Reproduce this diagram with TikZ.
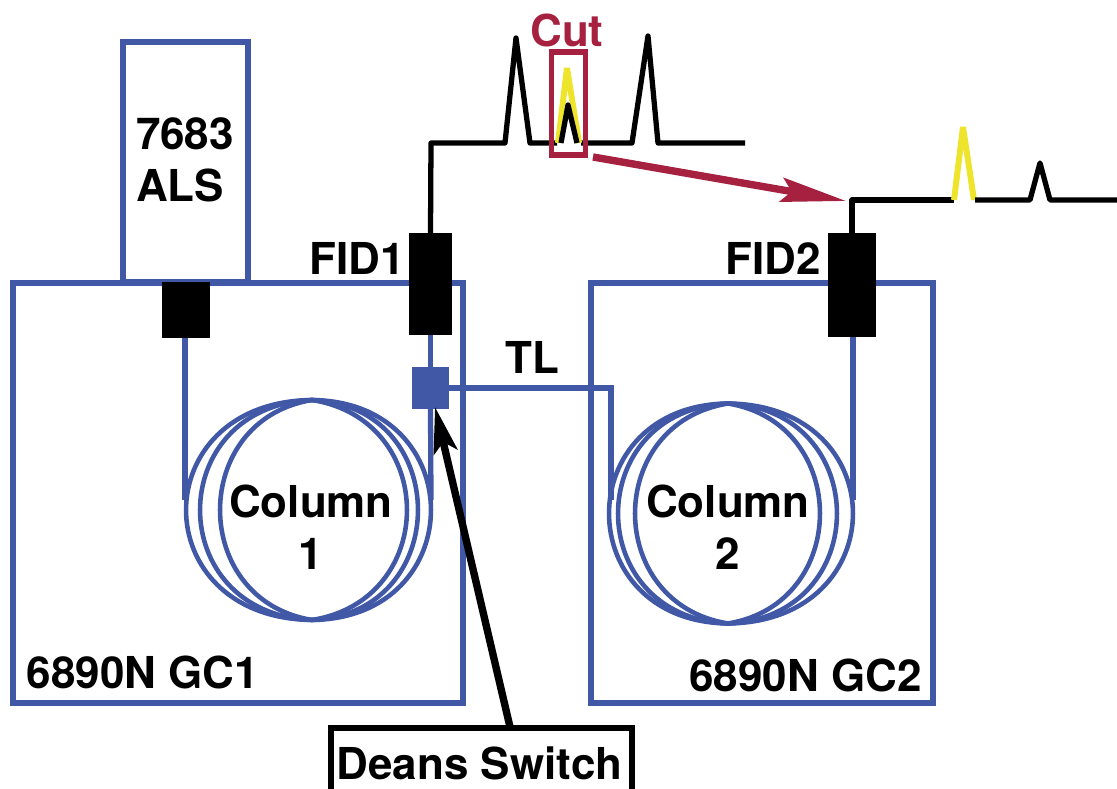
\documentclass[tikz,border=0pt]{standalone}
\usepackage{fontspec}
\setmainfont{TeX Gyre Heros}
\usetikzlibrary{arrows.meta}
\definecolor{tube}{RGB}{64,88,166}
\definecolor{cutred}{RGB}{166,33,64}
\definecolor{peak}{RGB}{238,228,44}
\tikzset{
  label/.style={font=\fontsize{12.5}{14.8}\selectfont\bfseries,align=center,inner sep=0pt},
  oven/.style={draw=tube,line width=1.55pt,inner sep=0pt,outer sep=0pt,minimum width=#1},
  block/.style={fill=black,inner sep=0pt,outer sep=0pt,minimum width=#1},
  signal/.style={line width=1.5pt,line join=round,draw=black},
  signal cut/.style={line width=1.7pt,line join=bevel,draw=peak},
  capillary/.style={draw=tube,line width=1.5pt},
  coilline/.style={draw=tube,line width=1.3pt},
  % coil of three turns
  pics/coil/.style={code={
    \foreach \l/\r/\c in {#1}{
      \draw[coilline] (0,-110) .. controls (1.333*\r,-\c) and (1.333*\r,\c) .. (0,110);
      \draw[coilline] (0,-110) .. controls (1.333*\l,-\c) and (1.333*\l,\c) .. (0,110);
    }
  }},
}
\begin{document}
\begin{tikzpicture}[x=0.01cm,y=-0.01cm]
  \clip (0,0) rectangle (1117,789);
  % ovens and sampler
  \node[oven=1.25cm,minimum height=2.40cm] (als) at (185.5,162) {};
  \node[oven=4.50cm,minimum height=4.20cm] (gc1) at (238,493) {};
  \node[oven=3.42cm,minimum height=4.20cm] (gc2) at (762,493) {};
  % coils
  \pic at (312,510) {coil={-126/119/108,-112/106/104,-92/95/90}};
  \pic at (728,513.5) {coil={-119/125/108,-110/109/104,-93/92/90}};
  % columns
  \node[block=0.48cm,minimum height=0.56cm] (inlet) at (186,310) {};
  \node[block=0.43cm,minimum height=1.02cm] (fid1) at (430.5,284) {};
  \node[block=0.48cm,minimum height=1.04cm] (fid2) at (852,285) {};
  \node[fill=tube,inner sep=0pt,outer sep=0pt,minimum width=0.37cm,minimum height=0.42cm] (switch) at (430.5,388) {};
  \coordinate (coil1 l) at (185,500);
  \coordinate (coil1 r) at (431,500);
  \coordinate (coil2 l) at (611,500);
  \coordinate (coil2 r) at (853,500);
  \draw[capillary] (inlet.south -| coil1 l) -- (coil1 l);
  \draw[capillary] (fid1.south) -- (switch.north);
  \draw[capillary] (switch.south) -- (coil1 r);
  \draw[capillary] (switch.east) -- (switch.east -| coil2 l) -- (coil2 l);
  \draw[capillary] (fid2.south -| coil2 r) -- (coil2 r);
  % chromatograms
  \draw[signal] (fid1.north) -- (431,143) -- (505,143) -- (516,38) -- (530,143) -- (557,143);
  \draw[signal] (581,143) -- (632,143) -- (648,36) -- (658,143) -- (745,143);
  \draw[signal cut] (558,143) -- (567,68) -- (579,143);
  \draw[signal] (561,143) -- (568,105) -- (577,143);
  \draw[signal] (fid2.north) -- (852,200) -- (954,200);
  \draw[signal cut] (954,200) -- (963,127) -- (974,200);
  \draw[signal] (975,200) -- (1030,200) -- (1040,163) -- (1050,200) -- (1117,200);
  % cut window
  \node[draw=cutred,line width=1.45pt,inner sep=0pt,minimum width=0.34cm,minimum height=1.03cm] (cutbox) at (568.5,103.5) {};
  \node[label,text=cutred,anchor=base] (cut) at (567,47) {Cut};
  \coordinate (cut from) at (593,157);
  \coordinate (cut to) at (846,201);
  \draw[cutred,line width=2.1pt,-{Stealth[length=6.5mm,width=2.4mm,inset=1mm]}] (cut from) -- (cut to);
  % labels
  \node[label,align=left] (alstext) at (185,160) {7683\\ALS};
  \node[label,anchor=base] (fid1text) at (357,275) {FID1};
  \node[label,anchor=base] (fid2text) at (773,275) {FID2};
  \node[label,anchor=base] (tl) at (532.5,374) {TL};
  \node[label,anchor=base] (gc1text) at (143,689) {6890N GC1};
  \node[label,anchor=base] (gc2text) at (805.5,692) {6890N GC2};
  \node[label] (col1) at (311,527) {Column\\1};
  \node[label] (col2) at (728,527) {Column\\2};
  % switch label
  \node[draw=black,line width=1.5pt,label,minimum width=3.01cm,minimum height=0.71cm] (deans) at (481.5,763.5) {Deans Switch\hspace{0.04cm}};
  \coordinate (deans top) at (510,727);
  \coordinate (switch tip) at (435,407);
  \draw[black,line width=2.1pt,-{Stealth[length=4.6mm,width=2.4mm,inset=1mm]}] (deans top) -- (switch tip);
\end{tikzpicture}
\end{document}
